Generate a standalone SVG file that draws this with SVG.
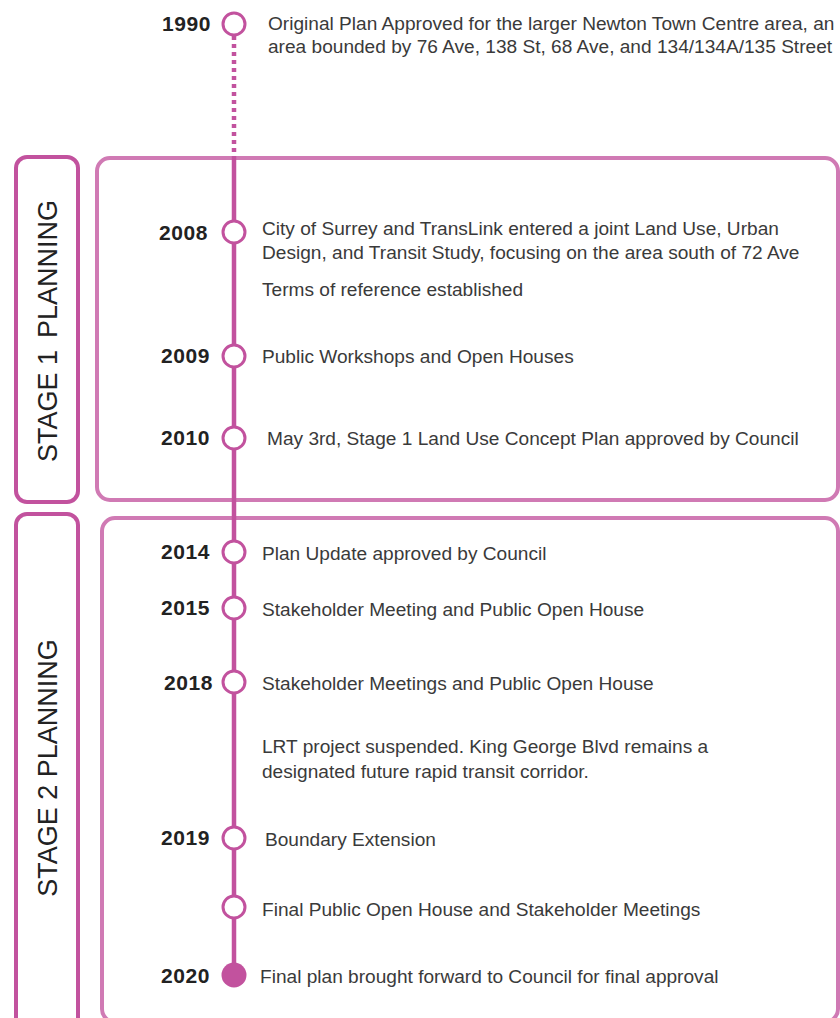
<svg xmlns="http://www.w3.org/2000/svg" width="840" height="1018" viewBox="0 0 840 1018">
<style>
.lbl{fill:none;stroke:#C2529E;stroke-width:4}
.box{fill:none;stroke:#D07AB4;stroke-width:4}
.line{stroke:#C2529E;stroke-width:4.5;fill:none}
.dot{fill:#fff;stroke:#C2529E;stroke-width:3}
.yr{font-family:"Liberation Sans",Arial,sans-serif;font-weight:bold;font-size:21px;fill:#222;text-anchor:end;letter-spacing:0.6px}
.tx{font-family:"Liberation Sans",Arial,sans-serif;font-size:19.1px;fill:#3a3a3a}
.st{font-family:"Liberation Sans",Arial,sans-serif;font-size:27px;fill:#222;text-anchor:middle}
</style>
<rect width="840" height="1018" fill="#fff"/>
<g id="stage1">
<rect class="lbl" x="16" y="157" width="62" height="345" rx="11"/>
<rect class="box" x="97" y="158" width="741" height="342" rx="13"/>
<text class="st" transform="translate(57,331) rotate(-90)">STAGE 1<tspan dx="12">PLANNING</tspan></text>
</g>
<g id="stage2">
<rect class="lbl" x="16" y="514" width="62" height="530" rx="11"/>
<rect class="box" x="102" y="518" width="736" height="504" rx="13"/>
<text class="st" transform="translate(57,768) rotate(-90)">STAGE 2 PLANNING</text>
</g>
<g id="connectors">
<line class="line" x1="234" y1="36" x2="234" y2="158" stroke-dasharray="4 4"/>
<line class="line" x1="234" y1="158" x2="234" y2="975"/>
</g>
<g id="e1990"><circle class="dot" cx="234" cy="24" r="11"/><text class="yr" x="211" y="31">1990</text>
<text class="tx" x="268" y="30">Original Plan Approved for the larger Newton Town Centre area, an</text>
<text class="tx" x="268" y="53">area bounded by 76 Ave, 138 St, 68 Ave, and 134/134A/135 Street</text></g>
<g id="e2008"><circle class="dot" cx="234" cy="232" r="11"/><text class="yr" x="208" y="240">2008</text>
<text class="tx" x="262" y="235">City of Surrey and TransLink entered a joint Land Use, Urban</text>
<text class="tx" x="262" y="259">Design, and Transit Study, focusing on the area south of 72 Ave</text>
<text class="tx" x="262" y="296">Terms of reference established</text></g>
<g id="e2009"><circle class="dot" cx="234" cy="356" r="11"/><text class="yr" x="210" y="363">2009</text>
<text class="tx" x="262" y="363">Public Workshops and Open Houses</text></g>
<g id="e2010"><circle class="dot" cx="234" cy="438" r="11"/><text class="yr" x="210" y="445">2010</text>
<text class="tx" x="267" y="445">May 3rd, Stage 1 Land Use Concept Plan approved by Council</text></g>
<g id="e2014"><circle class="dot" cx="234" cy="552" r="11"/><text class="yr" x="210" y="559">2014</text>
<text class="tx" x="262" y="560">Plan Update approved by Council</text></g>
<g id="e2015"><circle class="dot" cx="234" cy="608" r="11"/><text class="yr" x="210" y="615">2015</text>
<text class="tx" x="262" y="616">Stakeholder Meeting and Public Open House</text></g>
<g id="e2018"><circle class="dot" cx="234" cy="682" r="11"/><text class="yr" x="213" y="690">2018</text>
<text class="tx" x="262" y="690">Stakeholder Meetings and Public Open House</text></g>
<g id="lrt"><text class="tx" x="262" y="753">LRT project suspended. King George Blvd remains a</text>
<text class="tx" x="262" y="778">designated future rapid transit corridor.</text></g>
<g id="e2019"><circle class="dot" cx="234" cy="838" r="11"/><text class="yr" x="210" y="845">2019</text>
<text class="tx" x="265" y="846">Boundary Extension</text></g>
<g id="efinal"><circle class="dot" cx="234" cy="907" r="11"/>
<text class="tx" x="262" y="916">Final Public Open House and Stakeholder Meetings</text></g>
<g id="e2020"><circle cx="234" cy="975" r="12.5" fill="#C2529E"/><text class="yr" x="210" y="983">2020</text>
<text class="tx" x="260" y="983">Final plan brought forward to Council for final approval</text></g>
</svg>
